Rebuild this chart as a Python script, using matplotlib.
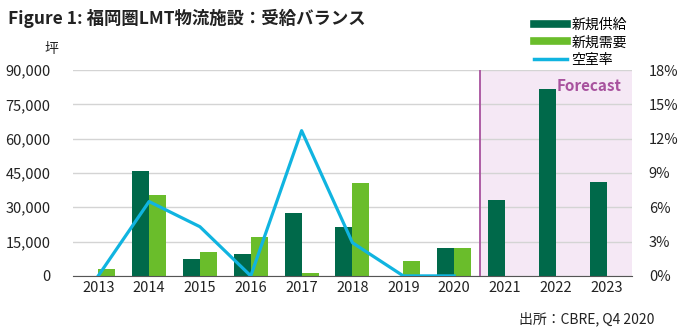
import matplotlib.pyplot as plt
import numpy as np
from matplotlib.lines import Line2D
from matplotlib.ticker import FuncFormatter

plt.rcParams['font.family'] = ['Noto Sans CJK JP', 'DejaVu Sans']

years = ['2013', '2014', '2015', '2016', '2017', '2018', '2019', '2020',
         '2021', '2022', '2023']
supply = [0, 46000, 7300, 9400, 27500, 21200, 0, 12200, 33000, 81900, 41100]
demand = [3000, 35500, 10400, 16800, 1200, 40600, 6600, 12200]
vacancy = [0.0, 6.5, 4.3, 0.0, 12.7, 2.9, 0.0, 0.0]

DARK = '#00694A'
LIGHT = '#6ABD2B'
CYAN = '#10B4E0'
PURPLE = '#A8529E'

fig = plt.figure(figsize=(7, 3.32), dpi=100)
ax = fig.add_axes([0.104, 0.169, 0.799, 0.620])
x = np.arange(len(years))
w = 0.335

# forecast period shading
ax.axvspan(7.5, 10.5, color='#F5E8F5', zorder=0, lw=0)
ax.axvline(7.5, color=PURPLE, lw=1.3, zorder=3)
ax.bar(x - w / 2, supply, w, color=DARK, zorder=2)
ax.bar(np.arange(len(demand)) + w / 2, demand, w, color=LIGHT, zorder=2)

ax.set_xlim(-0.5, 10.5)
ax.set_ylim(0, 90000)
ax.set_yticks(np.arange(0, 90001, 15000))
ax.yaxis.set_major_formatter(FuncFormatter(lambda v, p: f'{int(v):,}'))
ax.set_xticks(x)
ax.set_xticklabels(years)
ax.grid(axis='y', color='#D4D4D4', lw=1, zorder=1)
ax.set_axisbelow(True)
for s in ['top', 'right', 'left']:
    ax.spines[s].set_visible(False)
ax.spines['bottom'].set_color('#555555')
ax.tick_params(length=0, labelsize=10.5, colors='#222222')
ax.tick_params(axis='y', pad=16)

ax2 = ax.twinx()
ax2.plot(np.arange(len(vacancy)), vacancy, color=CYAN, lw=2.3, zorder=4)
ax2.set_ylim(0, 18)
ax2.set_yticks(np.arange(0, 19, 3))
ax2.yaxis.set_major_formatter(FuncFormatter(lambda v, p: f'{int(v)}%'))
for s in ax2.spines.values():
    s.set_visible(False)
ax2.tick_params(length=0, labelsize=10.5, colors='#222222', pad=12)

ax.text(10.3, 83000, 'Forecast', color=PURPLE, fontsize=11,
        fontweight='bold', ha='right', va='center', zorder=5)

fig.text(0.012, 0.945, 'Figure 1: 福岡圏LMT物流施設：受給バランス',
         fontsize=12.5, fontweight='bold', color='#222222', va='center')
fig.text(0.064, 0.852, '坪', fontsize=10, color='#222222', va='center')
fig.text(0.935, 0.04, '出所：CBRE, Q4 2020', fontsize=10,
         color='#222222', ha='right', va='center')

handles = [Line2D([], [], color=DARK, lw=5.5),
           Line2D([], [], color=LIGHT, lw=5.5),
           Line2D([], [], color=CYAN, lw=2.5)]
fig.legend(handles, ['新規供給', '新規需要', '空室率'],
           loc='upper left', bbox_to_anchor=(0.755, 0.963), frameon=False,
           fontsize=10, handlelength=2.4, handletextpad=0.3,
           labelspacing=0.25, borderaxespad=0)

fig.savefig('out.png', dpi=100)
